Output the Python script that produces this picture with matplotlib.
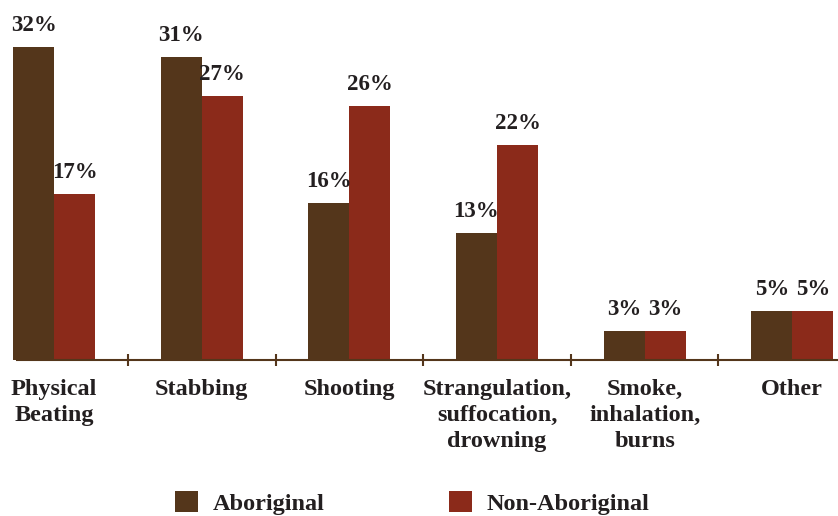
import matplotlib
matplotlib.use("Agg")
import matplotlib.pyplot as plt
import numpy as np

categories = ["Physical\nBeating", "Stabbing", "Shooting",
              "Strangulation,\nsuffocation,\ndrowning", "Smoke,\ninhalation,\nburns", "Other"]
aboriginal = [32, 31, 16, 13, 3, 5]
non_aboriginal = [17, 27, 26, 22, 3, 5]
series_names = ["Aboriginal", "Non-Aboriginal"]

c_ab = "#54361b"
c_non = "#8b2a1a"
txt = "#231f20"

plt.rcParams['font.family'] = ['Liberation Serif', 'DejaVu Serif']
plt.rcParams['font.weight'] = 'bold'

fig = plt.figure(figsize=(8.38, 5.16), dpi=100)
ax = fig.add_axes([13/838, (516-360)/516, 825/838, 360/516])

x = np.arange(len(categories))
w = 0.278
b1 = ax.bar(x - w/2, aboriginal, w, color=c_ab, label=series_names[0])
b2 = ax.bar(x + w/2, non_aboriginal, w, color=c_non, label=series_names[1])

for bars, vals in ((b1, aboriginal), (b2, non_aboriginal)):
    for r, v in zip(bars, vals):
        ax.annotate(f"{v}%", (r.get_x() + r.get_width()/2, v), xytext=(0, 8),
                    textcoords="offset points", ha="center", va="bottom",
                    fontsize=16.5, fontweight="bold", color=txt)

ax.set_xlim(-0.278, 5.31)
ax.set_ylim(0, 36.8)
for s in ("top", "right", "left"):
    ax.spines[s].set_visible(False)
ax.spines["bottom"].set_color(c_ab)
ax.spines["bottom"].set_linewidth(1.5)
ax.spines["bottom"].set_bounds(-0.25, 5.31)
ax.set_yticks([])
ax.set_xticks(x)
ax.set_xticklabels(categories, fontsize=17.5, fontweight="bold", color=txt, linespacing=1.3)
ax.tick_params(axis="x", which="major", length=0, pad=14)
ax.set_xticks(x[:-1] + 0.5, minor=True)
ax.tick_params(axis="x", which="minor", direction="inout", length=8, width=1.5, color=c_ab)

leg = fig.legend(handles=[b1, b2], labels=series_names, loc="lower center",
                 bbox_to_anchor=(0.492, -0.04), ncol=2, frameon=False,
                 handlelength=0.95, handleheight=0.95, handletextpad=0.6,
                 columnspacing=5.1, prop={'size': 17.5, 'weight': 'bold'})
for t in leg.get_texts():
    t.set_color(txt)

fig.savefig("out.png", dpi=100)
